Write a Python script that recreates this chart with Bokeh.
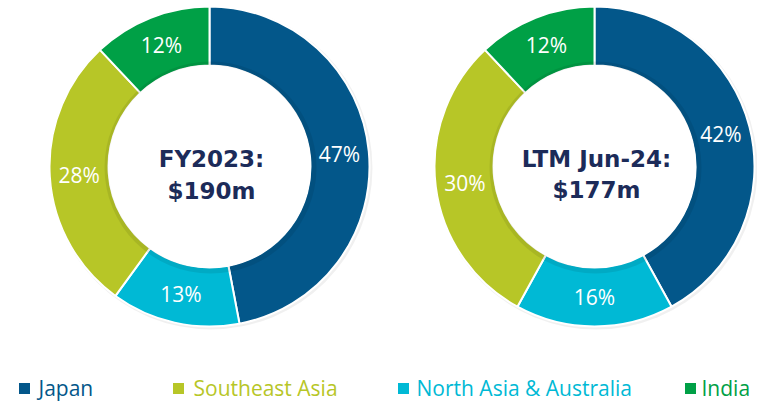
import math
from bokeh.plotting import figure
from bokeh.models import ColumnDataSource, Range1d
from bokeh.core.properties import value
from bokeh.embed import file_html
from bokeh.resources import INLINE

# ---- data ----
regions = ["Japan", "North Asia & Australia", "Southeast Asia", "India"]  # clockwise order from 12 o'clock
colors = ["#03578a", "#00b9d5", "#b7c627", "#00a046"]
fy2023_share = [47, 13, 28, 12]
ltm_share = [42, 16, 30, 12]
chart_titles = [["FY2023:", "$190m"], ["LTM Jun-24:", "$177m"]]
legend_order = ["Japan", "Southeast Asia", "North Asia & Australia", "India"]

W, H = 757, 404
p = figure(width=W, height=H, x_range=Range1d(0, W), y_range=Range1d(0, H),
           output_backend="svg", toolbar_location=None, min_border=0,
           background_fill_color="white", border_fill_color="white")
p.axis.visible = False
p.grid.visible = False
p.outline_line_color = None

R_OUT, R_IN = 160, 101
R_LAB = (R_OUT + R_IN) / 2
centers = [(209, H - 166), (594, H - 166)]
title_y = [(H - 158, H - 190), (H - 158, H - 189)]

for (cx, cy), shares, titles, ty in zip(centers, [fy2023_share, ltm_share], chart_titles, title_y):
    total = sum(shares)
    cum = 0
    starts, ends, lx, ly, labels = [], [], [], [], []
    for s in shares:
        c0 = cum / total
        c1 = (cum + s) / total
        starts.append(math.pi / 2 - 2 * math.pi * c1)
        ends.append(math.pi / 2 - 2 * math.pi * c0)
        mid = (c0 + c1) / 2
        a = math.pi / 2 - 2 * math.pi * mid
        lx.append(cx + R_LAB * math.cos(a))
        ly.append(cy + R_LAB * math.sin(a))
        labels.append(f"{s}%")
        cum += s
    src = ColumnDataSource(dict(start=starts, end=ends, color=colors))
    p.circle(x=cx + 1.5, y=cy - 1.5, radius=R_OUT + 1.5, fill_color="#000000", fill_alpha=0.06, line_color=None)
    p.annular_wedge(x=cx, y=cy, inner_radius=R_IN, outer_radius=R_OUT,
                    start_angle="start", end_angle="end", fill_color="color",
                    line_color="white", line_width=2, source=src)
    p.annulus(x=cx + 1, y=cy - 1, inner_radius=R_IN, outer_radius=R_IN + 5,
              fill_color="#000000", fill_alpha=0.08, line_color=None)
    p.circle(x=cx, y=cy, radius=R_IN, fill_color="white", line_color="white", line_width=1)
    p.text(x=lx, y=ly, text=labels, text_color="white", text_align="center",
           text_baseline="middle", text_font=value("Open Sans"), text_font_size="21px")
    p.text(x=[cx + 2, cx + 2], y=list(ty), text=titles, text_color="#1c2b59",
           text_align="center", text_baseline="middle",
           text_font=value("DejaVu Sans"), text_font_style="bold", text_font_size="23px")

# legend
leg_color = {r: c for r, c in zip(regions, colors)}
mx = [24, 178, 403, 690]
tx = [38, 193, 416, 701]
p.scatter(x=mx, y=[H - 388] * 4, marker="square", size=11,
          fill_color=[leg_color[r] for r in legend_order], line_color=None)
p.text(x=tx, y=[H - 387] * 4, text=legend_order, text_color=[leg_color[r] for r in legend_order],
       text_align="left", text_baseline="middle", text_font=value("Open Sans"),
       text_font_size="21px")

open("out.html", "w").write(file_html(p, INLINE))
